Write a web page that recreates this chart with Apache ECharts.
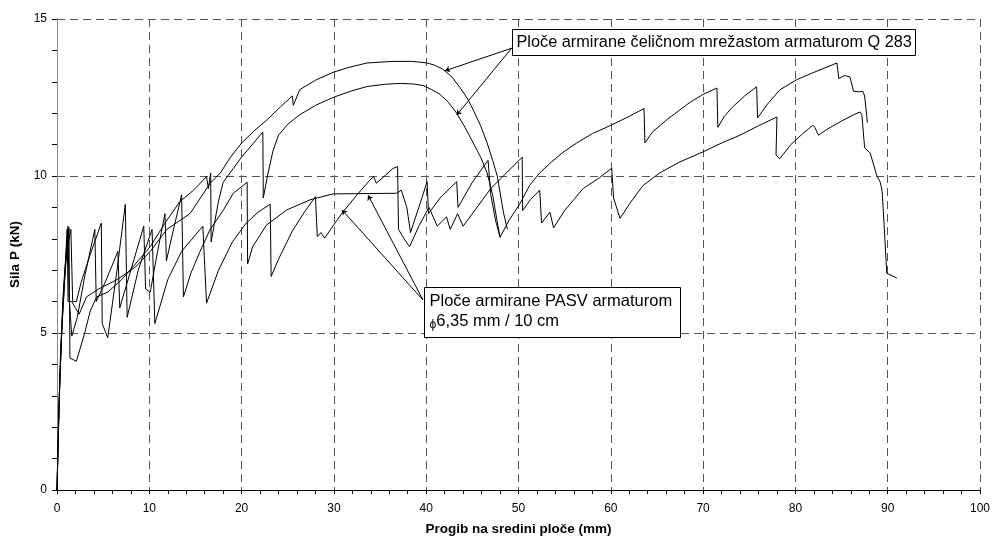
<!DOCTYPE html>
<html><head><meta charset="utf-8">
<script src="https://cdn.jsdelivr.net/npm/echarts@6/dist/echarts.min.js"></script>
<style>html,body{margin:0;padding:0;background:#fff}#c{width:994px;height:541px}</style>
</head><body><div id="c"></div>
<script>
// Q 283 mesh specimens
const q283Upper = [[0,0],[0.15,2.0],[0.4,4.5],[0.8,6.6],[1.1,8.3],[1.2,6.0],[1.6,6.0],[2.0,5.8],[2.4,5.6],[3.2,6.15],[4.5,6.4],[6.5,6.7],[8.5,7.1],[10.1,7.6],[11.9,8.3],[14.4,8.8],[16.6,9.77],[17.7,10.1],[18.8,10.6],[20.0,11.05],[21.4,11.45],[22.8,11.8],[24.2,12.2],[25.5,12.55],[25.6,12.25],[26.3,12.75],[28.0,13.05],[29.9,13.3],[31.5,13.45],[33.6,13.6],[36.4,13.65],[38.5,13.65],[40.1,13.6],[41.0,13.52],[41.8,13.4],[42.8,13.15],[43.7,12.8],[44.5,12.45],[45.1,12.1],[45.9,11.6],[46.6,11.05],[47.2,10.5],[47.7,10.0],[48.1,9.3],[48.4,8.8],[48.8,8.3]];
const q283Lower = [[0,0],[0.2,2.5],[0.5,5.0],[0.9,7.0],[1.3,8.35],[1.4,4.2],[2.1,4.1],[3.0,5.0],[3.6,5.7],[4.3,6.15],[5.5,6.3],[7.0,6.7],[8.5,7.2],[10.1,7.75],[11.7,8.5],[13.3,9.18],[14.8,9.55],[16.2,9.98],[16.4,9.6],[16.65,10.1],[16.7,7.9],[17.0,8.4],[17.5,9.2],[18.0,9.8],[20.0,10.6],[22.3,11.4],[22.35,9.3],[22.8,10.0],[23.4,10.8],[24.0,11.3],[25.0,11.65],[26.3,11.95],[28.0,12.25],[29.9,12.5],[31.8,12.7],[33.6,12.85],[35.5,12.92],[37.2,12.95],[38.6,12.93],[39.7,12.88],[40.6,12.75],[41.5,12.6],[42.4,12.35],[43.3,12.0],[44.2,11.55],[45.1,11.05],[45.9,10.6],[46.6,10.1],[47.2,9.4],[47.6,8.7],[48.0,8.05]];
// PASV specimens
const pasvA = [[0,0],[0.3,3.5],[0.7,6.4],[1.2,8.4],[1.3,6.2],[1.6,4.9],[2.2,5.5],[3.0,6.8],[4.1,8.3],[4.25,6.0],[5.2,6.6],[6.6,7.6],[6.8,5.8],[8.0,7.0],[9.4,8.4],[9.6,6.4],[10.1,6.3],[10.9,7.6],[11.7,8.8],[11.85,7.3],[12.7,8.4],[13.5,9.4],[13.7,6.15],[14.5,6.9],[15.5,7.6],[16.6,8.3],[18.0,8.9],[19.1,9.45],[20.6,9.8],[20.65,7.2],[21.2,7.75],[22.7,8.44],[24.9,8.92],[27.4,9.24],[29.9,9.43],[36.8,9.45],[37.3,9.55],[37.9,9.0],[38.3,8.2],[39.2,9.0],[40.1,9.82],[40.25,8.8],[41.5,9.3],[43.3,9.82],[43.45,9.0],[45.0,9.8],[46.7,10.5],[47.0,9.4],[47.5,8.6],[48.0,8.05],[49.0,8.6],[50.2,9.14],[51.2,9.7],[52.3,10.1],[53.4,10.4],[54.8,10.75],[56.3,11.05],[58.0,11.35],[59.9,11.6],[62.0,11.9],[63.6,12.15],[63.7,11.05],[64.5,11.4],[66.1,11.8],[68.6,12.35],[70.0,12.6],[71.5,12.8],[71.6,11.55],[72.3,11.9],[73.2,12.2],[74.5,12.55],[75.8,12.84],[75.9,11.85],[77.0,12.3],[78.3,12.74],[80.1,13.06],[82.0,13.3],[84.5,13.6],[84.7,13.1],[85.3,13.2],[85.9,13.16],[86.3,12.7],[86.9,12.68],[87.3,12.7],[87.5,12.55],[87.8,11.7]];
const pasvB = [[0,0],[0.25,3.0],[0.6,5.8],[1.0,7.5],[1.5,8.3],[1.7,6.0],[2.1,6.0],[2.6,6.6],[3.6,7.5],[4.8,8.5],[4.9,5.3],[5.5,4.85],[6.5,7.0],[7.4,9.1],[7.6,5.5],[8.8,7.0],[10.3,8.3],[10.6,5.3],[12.0,6.7],[13.5,7.6],[15.8,8.4],[16.2,5.95],[17.5,7.0],[19.0,7.9],[20.5,8.5],[21.8,8.85],[23.1,9.1],[23.2,6.8],[24.0,7.35],[25.5,8.25],[26.8,8.85],[28.0,9.34],[28.2,8.07],[28.6,8.2],[29.0,8.02],[30.0,8.45],[31.0,8.86],[32.5,9.4],[33.9,9.87],[34.3,9.98],[34.6,9.77],[35.5,10.0],[36.4,10.24],[36.9,10.3],[37.0,8.3],[37.6,8.0],[38.2,7.75],[39.2,8.4],[40.3,9.0],[41.2,8.4],[42.2,8.7],[42.6,8.3],[43.4,8.8],[44.0,8.4],[45.5,9.0],[47.0,9.6],[48.7,10.1],[50.4,10.6],[50.45,8.9],[51.3,9.25],[52.3,9.55],[52.5,8.5],[53.4,8.85],[53.8,8.35],[55.0,8.9],[57.0,9.6],[58.8,9.95],[60.1,10.25],[60.3,9.3],[61.0,8.65],[62.0,9.1],[63.5,9.7],[65.3,10.1],[67.5,10.45],[70.0,10.77],[72.0,11.05],[74.0,11.3],[76.0,11.6],[78.0,11.88],[77.9,10.67],[78.3,10.55],[79.5,11.0],[80.8,11.35],[81.9,11.62],[82.1,11.55],[82.5,11.3],[83.5,11.5],[85.0,11.75],[86.3,11.95],[87.0,12.04],[87.2,11.95],[87.5,10.9],[88.1,10.73],[88.8,10.03],[89.2,9.8],[89.4,9.5],[89.6,8.5],[89.9,6.9],[91.0,6.75]];

const xName = 'Progib na sredini ploče (mm)';
const yName = 'Sila P (kN)';
const q283Text = 'Ploče armirane čeličnom mrežastom armaturom Q 283';
const pasvText1 = 'Ploče armirane PASV armaturom';
const pasvText2 = '6,35 mm / 10 cm';
// annotation arrows: [from, to] in data units
const q283Arrows = [[[49.26,14.07],[42.04,13.35]],[[49.26,14.07],[43.3,11.94]]];
const pasvArrows = [[[39.65,6.05],[30.88,8.92]],[[39.65,6.05],[33.7,9.39]]];
const q283BoxAnchor = [49.3,14.68];
const pasvBoxAnchor = [39.75,6.48];

const FONT = '"Liberation Sans", Arial, sans-serif';
const chart = echarts.init(document.getElementById('c'));
const lineSeries = (d) => ({type:'line', data:d, showSymbol:false, symbol:'none', animation:false,
  lineStyle:{color:'#000', width:1}, z:3});
const arrowData = q283Arrows.concat(pasvArrows).map(a => ({coords:a}));
chart.setOption({
  animation:false,
  backgroundColor:'#fff',
  grid:{left:57, right:14, top:19, bottom:51, containLabel:false},
  xAxis:{type:'value', min:0, max:100, interval:10,
    name:xName, nameLocation:'middle', nameGap:32,
    nameTextStyle:{fontFamily:FONT, fontSize:13.5, fontWeight:'bold', color:'#000'},
    axisLine:{onZero:false, lineStyle:{color:'#000', width:1}},
    axisTick:{show:true, inside:false, length:4, lineStyle:{color:'#000'}},
    minorTick:{show:true, splitNumber:5, length:4, lineStyle:{color:'#000'}},
    axisLabel:{fontFamily:FONT, fontSize:12, color:'#000', margin:13},
    splitLine:{show:true, lineStyle:{color:'#555', type:[8,5], width:1}}},
  yAxis:[{type:'value', min:0, max:15, interval:5,
    name:yName, nameLocation:'middle', nameGap:32, nameRotate:90,
    nameTextStyle:{fontFamily:FONT, fontSize:13.5, fontWeight:'bold', color:'#000'},
    axisLine:{show:true, onZero:false, lineStyle:{color:'#000', width:1}},
    axisTick:{show:true, inside:false, length:5, lineStyle:{color:'#000'}},
    minorTick:{show:true, splitNumber:5, length:5, lineStyle:{color:'#000'}},
    axisLabel:{fontFamily:FONT, fontSize:12, color:'#000', margin:10},
    splitLine:{show:true, lineStyle:{color:'#555', type:[8,5], width:1}}},
   {type:'value', min:0, max:15, position:'right',
    axisLine:{show:true, lineStyle:{color:'#888', width:1}},
    axisTick:{show:false}, axisLabel:{show:false}, splitLine:{show:false}}],
  series:[lineSeries(q283Upper), lineSeries(q283Lower), lineSeries(pasvA), lineSeries(pasvB),
    {type:'lines', coordinateSystem:'cartesian2d', data:arrowData, animation:false,
     symbol:['none','arrow'], symbolSize:5, lineStyle:{color:'#000', width:1, opacity:1}, z:4}]
});
const p1 = chart.convertToPixel({gridIndex:0}, q283BoxAnchor);
const p2 = chart.convertToPixel({gridIndex:0}, pasvBoxAnchor);
chart.setOption({graphic:[
  {type:'group', x:Math.round(p1[0])+0.5, y:Math.round(p1[1])+0.5, z:10, children:[
    {type:'rect', shape:{x:0,y:0,width:403,height:26}, style:{fill:'#fff', stroke:'#000', lineWidth:1}},
    {type:'text', x:4, y:13.5, style:{text:q283Text, font:'16.3px '+FONT, fill:'#000', verticalAlign:'middle'}}]},
  {type:'group', x:Math.round(p2[0])+0.5, y:Math.round(p2[1])+0.5, z:10, children:[
    {type:'rect', shape:{x:0,y:0,width:256,height:50}, style:{fill:'#fff', stroke:'#000', lineWidth:1}},
    {type:'text', x:5, y:14, style:{text:pasvText1, font:'16.5px '+FONT, fill:'#000', verticalAlign:'middle'}},
    {type:'text', x:5, y:34, style:{text:'{phi|ϕ}'+pasvText2, font:'16.5px '+FONT, fill:'#000', verticalAlign:'middle',
      rich:{phi:{fontSize:12, fontFamily:FONT, verticalAlign:'bottom', padding:[6,0,0,0]}}}}]}
]});
</script></body></html>
